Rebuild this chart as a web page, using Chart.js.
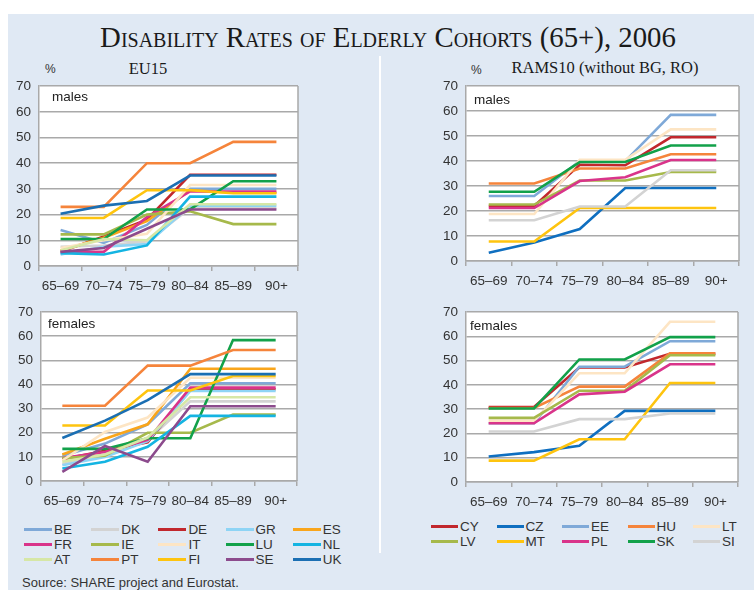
<!DOCTYPE html>
<html>
<head>
<meta charset="utf-8">
<script src="https://cdn.jsdelivr.net/npm/chart.js@4.4.1/dist/chart.umd.min.js"></script>
<style>
  body { margin: 0; width: 754px; height: 590px; overflow: hidden; background: #fff;
         font-family: "Liberation Sans", Arial, sans-serif; position: relative; }
  #panel { position: absolute; left: 8px; top: 14px; width: 746px; height: 576px; background: #e0e9f4; }
  #divider { position: absolute; left: 379px; top: 56px; width: 2px; height: 497px; background: #fff; }
  .txt { position: absolute; white-space: nowrap; line-height: 1; color: #1a1a1a; }
  .serif { font-family: "Liberation Serif", "Times New Roman", serif; }
  #title { left: 388px; top: 23px; transform: translateX(-50%); font-size: 28.8px; font-variant: small-caps; }
  .sub { font-size: 16.5px; transform: translateX(-50%); }
  .pct { font-size: 12px; color: #333; }
  canvas { position: absolute; }
  .legend { position: absolute; display: grid; row-gap: 0; }
  .item { display: flex; align-items: center; height: 15px; font-size: 13.5px; color: #333; }
  .item span.sw { display: inline-block; height: 3px; margin-right: 2px; }
  #source { left: 22px; top: 576px; font-size: 13px; color: #333; }
</style>
</head>
<body>
<div id="panel"></div>
<div id="divider"></div>
<div id="title" class="txt serif">Disability Rates of Elderly Cohorts (65+), 2006</div>
<div class="txt serif sub" style="left:148px; top:61px;">EU15</div>
<div class="txt serif sub" style="left:605px; top:60px;">RAMS10 (without BG, RO)</div>
<div class="txt pct" style="left:45px; top:63px;">%</div>
<div class="txt pct" style="left:471px; top:64px;">%</div>
<canvas id="c1"></canvas>
<canvas id="c2"></canvas>
<canvas id="c3"></canvas>
<canvas id="c4"></canvas>
<div id="leg1" class="legend"></div>
<div id="leg2" class="legend"></div>
<div id="source" class="txt">Source: SHARE project and Eurostat.</div>
<script>
const ageGroups = ["65–69", "70–74", "75–79", "80–84", "85–89", "90+"];
const yTicks = [0, 10, 20, 30, 40, 50, 60, 70];

const eu15Countries = ["BE", "DK", "DE", "GR", "ES", "FR", "IE", "IT", "LU", "NL", "AT", "PT", "FI", "SE", "UK"];
const rams10Countries = ["CY", "CZ", "EE", "HU", "LT", "LV", "MT", "PL", "SK", "SI"];

// EU15, in the order of eu15Countries
const eu15Males = [
  [14, 9, 16, 30, 30, 30],
  [7.5, 8, 9.5, 22.5, 22.5, 22.5],
  [5.5, 11.5, 18, 35.5, 35.5, 35.5],
  [4.5, 7.5, 8.5, 23.5, 23.5, 23.5],
  [6, 11, 17.5, 29.5, 28.5, 28.5],
  [5.5, 5.5, 19, 29, 29, 29],
  [12.3, 12.3, 20, 21.3, 16.3, 16.3],
  [7, 10, 12.5, 31.5, 31.5, 31.5],
  [10.5, 10.5, 22, 22, 33, 33],
  [5, 4.5, 8, 27, 27, 27],
  [6, 10.5, 10, 24, 24, 24],
  [23, 23, 40, 40, 48.3, 48.3],
  [18.7, 18.7, 29.5, 29.5, 28.3, 28.3],
  [5.5, 7, 14.5, 22, 22, 22],
  [20.3, 23.5, 25.3, 35.2, 35.2, 35.2]
];
const eu15Females = [
  [10.5, 15.5, 23.5, 40.5, 40.5, 40.5],
  [7, 11, 17, 33, 33, 33],
  [9, 12.5, 16, 38, 38, 38],
  [6.5, 10, 16.5, 37.3, 37.3, 37.3],
  [11, 17.5, 23.5, 46.5, 46.5, 46.5],
  [9.5, 12, 17, 38.7, 38.7, 38.7],
  [9.5, 10.5, 20, 20, 27.5, 27.5],
  [8.5, 20.3, 26.3, 42.8, 42.8, 42.8],
  [13.3, 13.3, 17.7, 17.7, 58.4, 58.4],
  [5.2, 8, 14.2, 27, 27, 27],
  [8, 11, 18, 34.7, 34.7, 34.7],
  [31.2, 31.2, 47.8, 47.8, 54.3, 54.3],
  [23, 23, 37.5, 37.5, 43.5, 43.5],
  [3.8, 14.5, 8, 31, 31, 31],
  [17.8, 25, 33.5, 44.3, 44.3, 44.3]
];

// RAMS10, in the order of rams10Countries
const rams10Males = [
  [22, 22, 38.5, 38.3, 49.5, 49.5],
  [3.3, 7.4, 12.8, 29.2, 29.2, 29.2],
  [26, 26, 40, 40, 58.5, 58.5],
  [31, 31, 37, 37, 42.7, 42.7],
  [18.8, 18.8, 40.5, 40.5, 52.7, 52.7],
  [22.6, 22.6, 32.2, 32.2, 35.6, 35.6],
  [7.8, 7.8, 21.2, 21.2, 21.2, 21.2],
  [21.2, 21.2, 32, 33.5, 40.4, 40.4],
  [27.7, 27.7, 39.6, 39.6, 46.2, 46.2],
  [16.3, 16.3, 21.8, 21.8, 36.3, 36.3]
];
const rams10Females = [
  [30.9, 30.9, 47.2, 47.2, 52.8, 52.8],
  [10.5, 12.3, 14.9, 29.3, 29.3, 29.3],
  [24.2, 24.2, 47.5, 47.5, 58, 58],
  [30.5, 30.5, 39.3, 39.3, 53, 53],
  [25.2, 25.2, 44.8, 44.8, 66, 66],
  [26.4, 26.4, 37.6, 37.6, 52.2, 52.2],
  [8.8, 8.8, 17.6, 17.6, 40.8, 40.8],
  [24.2, 24.2, 36.1, 37.2, 48.5, 48.5],
  [30.3, 30.3, 50.5, 50.5, 59.7, 59.7],
  [20.8, 20.8, 25.9, 25.9, 28.2, 28.2]
];

const countryColors = {
  BE: "#7fa9d8", DK: "#d3d3d3", DE: "#c1272d", GR: "#8ed4f5", ES: "#f9a51b",
  FR: "#d9348a", IE: "#a6b94b", IT: "#fde5c4", LU: "#12a14a", NL: "#14b4e2",
  AT: "#d6e7a6", PT: "#f5843b", FI: "#fec40f", SE: "#8c4b8d", UK: "#1b6fb3",
  CY: "#c1272d", CZ: "#0f6fc0", EE: "#7fa9d8", HU: "#f5843b", LT: "#fde5c4",
  LV: "#a6b94b", MT: "#fec40f", PL: "#d9348a", SK: "#12a14a", SI: "#d3d3d3"
};

const gridColor = "#a9a9a9";
const tickFont = { family: "'Liberation Sans', Arial, sans-serif", size: 13.5 };

// white plot area, right border and the males/females label
const framePlugin = {
  id: "frame",
  beforeDraw(chart) {
    const a = chart.chartArea, ctx = chart.ctx;
    ctx.save();
    ctx.fillStyle = "#fff";
    ctx.fillRect(a.left, a.top, a.right - a.left, a.bottom - a.top);
    ctx.restore();
  },
  beforeDatasetsDraw(chart, args, opts) {
    const a = chart.chartArea, ctx = chart.ctx;
    ctx.save();
    ctx.strokeStyle = gridColor;
    ctx.lineWidth = 1.5;
    ctx.beginPath();
    ctx.moveTo(a.right, a.top);
    ctx.lineTo(a.right, a.bottom);
    ctx.stroke();
    ctx.fillStyle = "#222";
    ctx.font = "13.5px 'Liberation Sans', Arial, sans-serif";
    ctx.textBaseline = "middle";
    ctx.fillText(opts.text, a.left + opts.dx, a.top + opts.dy);
    ctx.restore();
  }
};

function makeChart(id, countries, values, label, area, dx, dy) {
  const x0 = area.l - 35, y0 = area.t - 9;
  const w = area.r - x0 + 10, h = area.b - y0 + 30;
  const cv = document.getElementById(id);
  cv.width = w; cv.height = h;
  cv.style.left = x0 + "px"; cv.style.top = y0 + "px";
  cv.style.width = w + "px"; cv.style.height = h + "px";

  new Chart(cv, {
    type: "line",
    data: {
      labels: ageGroups,
      datasets: countries.map((c, i) => ({
        label: c,
        data: values[i],
        borderColor: countryColors[c],
        borderWidth: 2.6,
        pointRadius: 0,
        tension: 0,
        fill: false,
        order: countries.length - i
      }))
    },
    options: {
      responsive: false,
      animation: false,
      events: [],
      layout: { padding: { top: 9, right: 10, left: 0, bottom: 0 } },
      plugins: {
        legend: { display: false },
        tooltip: { enabled: false },
        frame: { text: label, dx: dx, dy: dy }
      },
      scales: {
        x: {
          offset: true,
          grid: { offset: true, drawOnChartArea: false, color: gridColor, lineWidth: 1.5, tickLength: 5 },
          border: { color: gridColor, width: 1.5 },
          ticks: { color: "#333", font: tickFont, padding: 7, maxRotation: 0, autoSkip: false },
          afterFit(s) { s.height = 30; }
        },
        y: {
          min: yTicks[0],
          max: yTicks[yTicks.length - 1],
          afterBuildTicks(s) { s.ticks = yTicks.map(v => ({ value: v })); },
          grid: { color: gridColor, lineWidth: 1.5, drawTicks: false },
          border: { color: gridColor, width: 1.5 },
          ticks: { color: "#333", font: tickFont, padding: 8 },
          afterFit(s) { s.width = 35; }
        }
      }
    },
    plugins: [framePlugin]
  });
}

makeChart("c1", eu15Countries, eu15Males, "males", { l: 39, t: 79, r: 298, b: 266 }, 13, 11);
makeChart("c2", rams10Countries, rams10Males, "males", { l: 466, t: 79, r: 739, b: 261 }, 8, 14);
makeChart("c3", eu15Countries, eu15Females, "females", { l: 41, t: 305, r: 297, b: 481 }, 7, 12);
makeChart("c4", rams10Countries, rams10Females, "females", { l: 466, t: 305, r: 738, b: 482 }, 4, 14);

function makeLegend(id, countries, left, top, colWidth, swatch) {
  const el = document.getElementById(id);
  el.style.left = left + "px";
  el.style.top = top + "px";
  el.style.gridTemplateColumns = "repeat(5, " + colWidth + "px)";
  countries.forEach(c => {
    const it = document.createElement("div");
    it.className = "item";
    const sw = document.createElement("span");
    sw.className = "sw";
    sw.style.width = swatch + "px";
    sw.style.background = countryColors[c];
    it.appendChild(sw);
    it.appendChild(document.createTextNode(c));
    el.appendChild(it);
  });
}
makeLegend("leg1", eu15Countries, 24, 522, 67.2, 28);
makeLegend("leg2", rams10Countries, 431, 519, 65.5, 27);
</script>
</body>
</html>
